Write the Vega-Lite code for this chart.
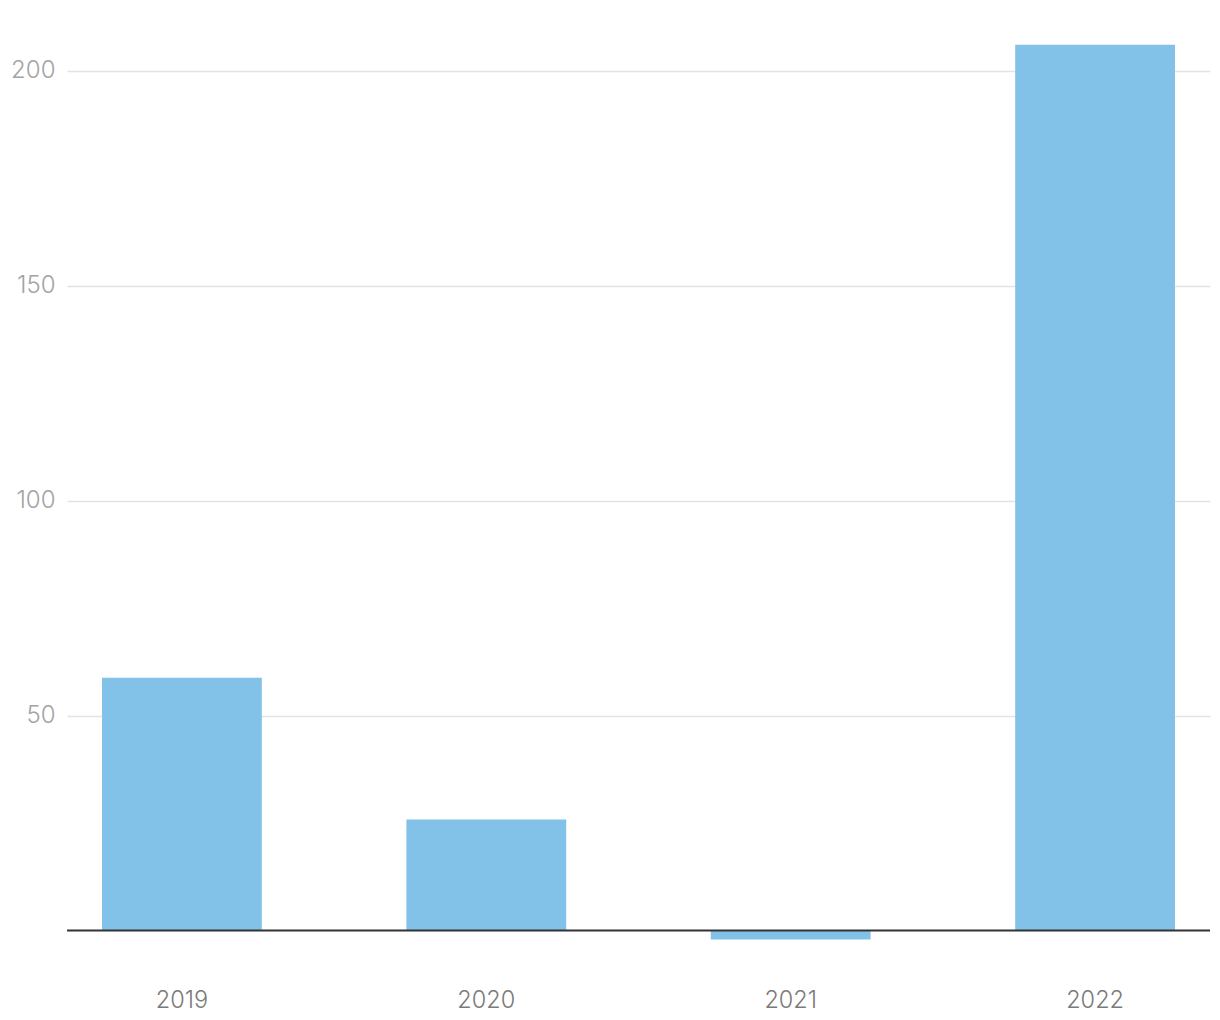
{
  "$schema": "https://vega.github.io/schema/vega-lite/v6.json",
  "width": 1143,
  "height": 896,
  "autosize": {"type": "none"},
  "padding": {"left": 67, "top": 44, "right": 10, "bottom": 80},
  "background": "white",
  "config": {"view": {"stroke": null}, "font": "Inter"},
  "data": {"values": [
    {"year": "2019", "value": 58.8},
    {"year": "2020", "value": 25.8},
    {"year": "2021", "value": -2.1},
    {"year": "2022", "value": 206}
  ]},
  "layer": [
    {
      "mark": {"type": "bar", "color": "#83c2e8"},
      "encoding": {
        "x": {"field": "year", "type": "nominal", "sort": null,
          "scale": {"paddingInner": 0.475, "paddingOuter": 0.115},
          "axis": {"title": null, "domain": false, "ticks": false, "labelAngle": 0,
            "labelFontSize": 23.5, "labelColor": "#7a7a7a", "labelPadding": 60, "labelBaseline": "middle", "labelFont": "Inter", "labelFontWeight": 300}},
        "y": {"field": "value", "type": "quantitative",
          "scale": {"domain": [-2.2, 206.2], "nice": false, "zero": false},
          "axis": {"title": null, "domain": false, "ticks": false, "values": [50, 100, 150, 200],
            "labelFontSize": 24, "labelColor": "#a3a3a3", "labelPadding": 12, "gridColor": "#e3e3e3", "gridWidth": 1.5, "labelFont": "Inter", "labelFontWeight": 300}}
      }
    },
    {
      "data": {"values": [{"z": 0}]},
      "mark": {"type": "rule", "color": "#333333", "strokeWidth": 2},
      "encoding": {"y": {"field": "z", "type": "quantitative"}}
    }
  ]
}
